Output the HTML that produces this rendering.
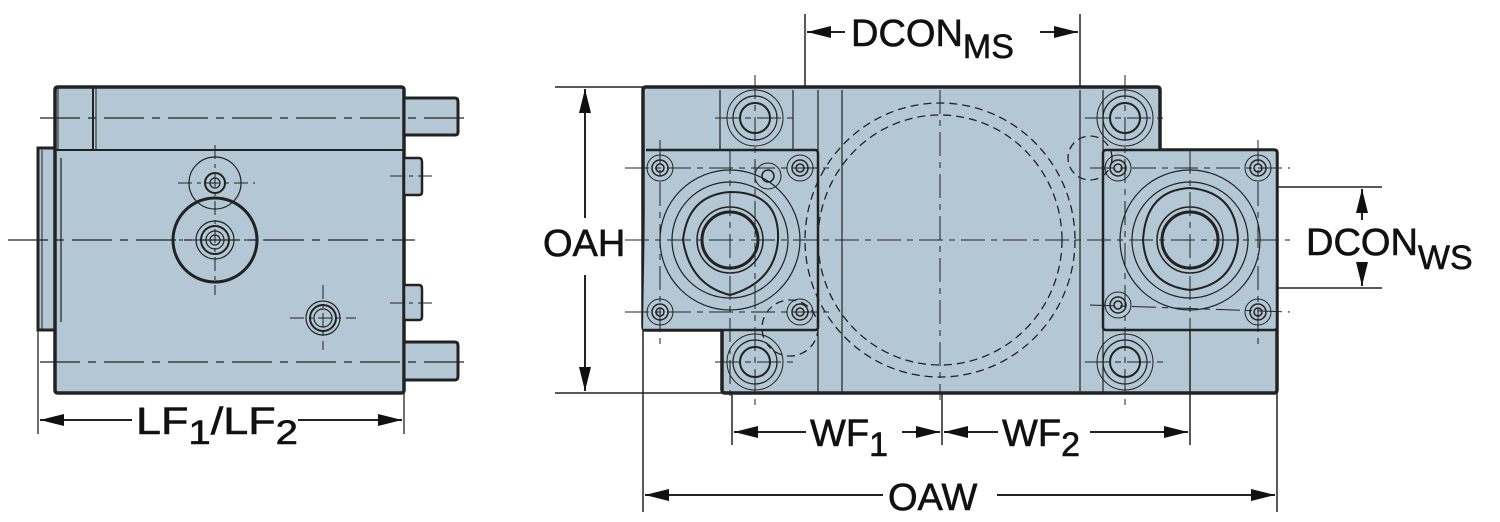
<!DOCTYPE html>
<html><head><meta charset="utf-8"><style>
html,body{margin:0;padding:0;background:#fff;}
svg{display:block;}
text{font-family:"Liberation Sans",Arial,sans-serif;fill:#111;stroke:#111;stroke-width:0.6;}
</style></head><body>
<svg width="1500" height="522" viewBox="0 0 1500 522" xmlns="http://www.w3.org/2000/svg">
<defs>
<marker id="a" viewBox="0 0 24 12" refX="24" refY="6" markerWidth="24" markerHeight="12" markerUnits="userSpaceOnUse" orient="auto-start-reverse"><path d="M0,0 L24,6 L0,12 z" fill="#111"/></marker>
</defs>
<g stroke="#222" fill="none">
<!-- LEFT VIEW -->
<path d="M38,148 H55 V330 H38 Z" fill="#b3c7d4" stroke-width="3"/>
<path d="M55,90 Q55,87 58,87 H401 Q404,87 404,90 V390 Q404,393 401,393 H58 Q55,393 55,390 Z" fill="#b3c7d4" stroke-width="3.5"/>
<path d="M404,98 H455 Q458,98 458,102 V132 Q458,135 455,135 H404 Z" fill="#b3c7d4" stroke-width="3"/>
<path d="M404,342 H455 Q458,342 458,346 V376 Q458,380 455,380 H404 Z" fill="#b3c7d4" stroke-width="3"/>
<path d="M404,158 H419 Q422,158 422,162 V192 Q422,195 419,195 H404 Z" fill="#b3c7d4" stroke-width="2.5"/>
<path d="M404,285 H419 Q422,285 422,289 V317 Q422,320 419,320 H404 Z" fill="#b3c7d4" stroke-width="2.5"/>
<line x1="55" y1="150" x2="404" y2="150" stroke-width="2"/>
<line x1="58" y1="87" x2="58" y2="150" stroke-width="1"/>
<line x1="93" y1="87" x2="93" y2="150" stroke-width="2"/>
<line x1="96" y1="87" x2="96" y2="150" stroke-width="1"/>
<line x1="61" y1="158" x2="61" y2="322" stroke-width="1.2"/>
<line x1="42" y1="150" x2="42" y2="330" stroke-width="1"/>
<g stroke-width="1.3" stroke-dasharray="40,8,8,8">
<line x1="40" y1="118" x2="470" y2="118"/>
<line x1="8" y1="240" x2="415" y2="240"/>
<line x1="40" y1="362" x2="470" y2="362"/>
</g>
<circle cx="215" cy="183" r="26" stroke-width="1.2"/>
<circle cx="215" cy="183" r="10" stroke-width="2"/>
<circle cx="215" cy="183" r="5" stroke-width="1.2"/>
<circle cx="215" cy="240" r="42" stroke-width="3"/>
<circle cx="215" cy="240" r="19" stroke-width="1.2"/>
<circle cx="215" cy="240" r="14" stroke-width="2"/>
<circle cx="215" cy="240" r="9" stroke-width="1.2"/>
<circle cx="215" cy="240" r="5" stroke-width="1.2"/>
<circle cx="323" cy="318" r="17" stroke-width="1.2"/>
<circle cx="323" cy="318" r="13" stroke-width="2"/>
<circle cx="323" cy="318" r="9" stroke-width="1.2"/>
<g stroke-width="1" stroke-dasharray="14,5,4,5">
<line x1="215" y1="145" x2="215" y2="295"/>
<line x1="178" y1="183" x2="255" y2="183"/>
<line x1="160" y1="240" x2="272" y2="240"/>
<line x1="323" y1="285" x2="323" y2="350"/>
<line x1="290" y1="318" x2="356" y2="318"/>
<line x1="390" y1="176" x2="433" y2="176"/>
<line x1="390" y1="303" x2="433" y2="303"/>
</g>
<!-- LF dimension -->
<line x1="38" y1="330" x2="38" y2="434" stroke-width="1.3"/>
<line x1="404" y1="393" x2="404" y2="434" stroke-width="1.3"/>
<line x1="40" y1="420" x2="132" y2="420" stroke-width="2" marker-start="url(#a)"/>
<line x1="298" y1="420" x2="402" y2="420" stroke-width="2" marker-end="url(#a)"/>

<!-- RIGHT VIEW -->
<path d="M646,87 H1157 Q1160,87 1160,90 V150 H1274 Q1277,150 1277,153 V390 Q1277,393 1274,393 H725 Q722,393 722,390 V330 H646 Q643,330 643,327 V90 Q643,87 646,87 Z" fill="#b3c7d4" stroke-width="3.5"/>
<path d="M646,150 H815 Q818,150 818,153 V327 Q818,330 815,330 H643" fill="#b3c7d4" stroke-width="2.5"/>
<path d="M1106,150 H1274 Q1277,150 1277,153 V327 Q1277,330 1274,330 H1106 Q1103,330 1103,327 V153 Q1103,150 1106,150 Z" fill="#b3c7d4" stroke-width="2.5"/>
<g stroke-width="1.2">
<line x1="818" y1="90" x2="818" y2="150"/>
<line x1="818" y1="330" x2="818" y2="393"/>
<line x1="842" y1="90" x2="842" y2="393"/>
<line x1="1080" y1="90" x2="1080" y2="393"/>
<line x1="1103" y1="90" x2="1103" y2="150"/>
<line x1="1103" y1="330" x2="1103" y2="393"/>
<line x1="720" y1="90" x2="720" y2="150"/>
<line x1="793" y1="90" x2="793" y2="150"/>
</g>
<g stroke-width="1.3" stroke-dasharray="8,5">
<ellipse cx="940" cy="240" rx="122" ry="125"/>
<ellipse cx="940" cy="240" rx="135" ry="137"/>
<circle cx="1090" cy="158" r="22"/>
<circle cx="790" cy="328" r="28"/>
</g>
<g>
<circle cx="730" cy="240" r="70" stroke-width="1.2"/>
<circle cx="730" cy="240" r="58" stroke-width="1.2"/>
<path d="M683,240 Q688,195 730,192 Q780,192 778,240 Q775,282 730,295 Q690,285 683,240 Z" stroke-width="2"/>
<circle cx="730" cy="240" r="33" stroke-width="1.5"/>
<circle cx="730" cy="240" r="28" stroke-width="3"/>
<circle cx="1190" cy="240" r="70" stroke-width="1.2"/>
<circle cx="1190" cy="240" r="58" stroke-width="1.2"/>
<path d="M1143,240 Q1146,190 1190,188 Q1236,192 1238,240 Q1234,285 1190,290 Q1146,285 1143,240 Z" stroke-width="2"/>
<circle cx="1190" cy="240" r="33" stroke-width="1.5"/>
<circle cx="1190" cy="240" r="28" stroke-width="3"/>
</g>
<g stroke-width="1.5">
<circle cx="660" cy="168" r="13" stroke-width="1"/><circle cx="660" cy="168" r="8"/><circle cx="660" cy="168" r="4"/>
<circle cx="800" cy="168" r="13" stroke-width="1"/><circle cx="800" cy="168" r="8"/><circle cx="800" cy="168" r="4"/>
<circle cx="660" cy="312" r="13" stroke-width="1"/><circle cx="660" cy="312" r="8"/><circle cx="660" cy="312" r="4"/>
<circle cx="800" cy="312" r="13" stroke-width="1"/><circle cx="800" cy="312" r="8"/><circle cx="800" cy="312" r="4"/>
<circle cx="768" cy="176" r="13" stroke-width="1"/><circle cx="768" cy="176" r="6"/>
<circle cx="1118" cy="168" r="13" stroke-width="1"/><circle cx="1118" cy="168" r="8"/><circle cx="1118" cy="168" r="4"/>
<circle cx="1258" cy="168" r="13" stroke-width="1"/><circle cx="1258" cy="168" r="8"/><circle cx="1258" cy="168" r="4"/>
<circle cx="1118" cy="305" r="13" stroke-width="1"/><circle cx="1118" cy="305" r="8"/><circle cx="1118" cy="305" r="4"/>
<circle cx="1258" cy="312" r="13" stroke-width="1"/><circle cx="1258" cy="312" r="8"/><circle cx="1258" cy="312" r="4"/>
<circle cx="755" cy="118" r="28" stroke-width="1"/><circle cx="755" cy="118" r="22" stroke-width="1.2"/><circle cx="755" cy="118" r="15" stroke-width="2"/>
<circle cx="1125" cy="118" r="28" stroke-width="1"/><circle cx="1125" cy="118" r="22" stroke-width="1.2"/><circle cx="1125" cy="118" r="15" stroke-width="2"/>
<circle cx="755" cy="362" r="28" stroke-width="1"/><circle cx="755" cy="362" r="22" stroke-width="1.2"/><circle cx="755" cy="362" r="15" stroke-width="2"/>
<circle cx="1125" cy="362" r="28" stroke-width="1"/><circle cx="1125" cy="362" r="22" stroke-width="1.2"/><circle cx="1125" cy="362" r="15" stroke-width="2"/>
</g>
<g stroke-width="1" stroke-dasharray="24,6,6,6">
<line x1="625" y1="240" x2="1290" y2="240"/>
<line x1="940" y1="90" x2="940" y2="400"/>
<line x1="730" y1="150" x2="730" y2="400"/>
<line x1="1190" y1="150" x2="1190" y2="330"/>
<line x1="755" y1="75" x2="755" y2="410"/>
<line x1="1125" y1="75" x2="1125" y2="410"/>
<line x1="660" y1="140" x2="660" y2="345"/>
<line x1="1258" y1="140" x2="1258" y2="345"/>
<line x1="715" y1="118" x2="795" y2="118"/>
<line x1="1085" y1="118" x2="1165" y2="118"/>
<line x1="715" y1="362" x2="795" y2="362"/>
<line x1="1085" y1="362" x2="1165" y2="362"/>
<line x1="625" y1="168" x2="830" y2="168"/>
<line x1="625" y1="312" x2="830" y2="312"/>
<line x1="1090" y1="168" x2="1290" y2="168"/>
<line x1="1090" y1="305" x2="1290" y2="312"/>
</g>
<g stroke-width="1.5">
<line x1="805" y1="14" x2="805" y2="87"/>
<line x1="1080" y1="14" x2="1080" y2="87"/>
<line x1="555" y1="87" x2="643" y2="87"/>
<line x1="555" y1="393" x2="722" y2="393"/>
<line x1="1277" y1="187" x2="1382" y2="187"/>
<line x1="1277" y1="288" x2="1382" y2="288"/>
<line x1="732" y1="393" x2="732" y2="445"/>
<line x1="942" y1="393" x2="942" y2="445"/>
<line x1="1190" y1="330" x2="1190" y2="445"/>
<line x1="643" y1="330" x2="643" y2="512"/>
<line x1="1277" y1="393" x2="1277" y2="512"/>
</g>
<g stroke-width="2">
<line x1="807" y1="32" x2="845" y2="32" marker-start="url(#a)"/>
<line x1="1040" y1="32" x2="1078" y2="32" marker-end="url(#a)"/>
<line x1="585" y1="89" x2="585" y2="218" marker-start="url(#a)"/>
<line x1="585" y1="275" x2="585" y2="391" marker-end="url(#a)"/>
<line x1="1362" y1="189" x2="1362" y2="220" marker-start="url(#a)"/>
<line x1="1362" y1="268" x2="1362" y2="286" marker-end="url(#a)"/>
<line x1="734" y1="432" x2="806" y2="432" marker-start="url(#a)"/>
<line x1="902" y1="432" x2="940" y2="432" marker-end="url(#a)"/>
<line x1="944" y1="432" x2="998" y2="432" marker-start="url(#a)"/>
<line x1="1090" y1="432" x2="1188" y2="432" marker-end="url(#a)"/>
<line x1="645" y1="495" x2="883" y2="495" marker-start="url(#a)"/>
<line x1="997" y1="495" x2="1275" y2="495" marker-end="url(#a)"/>
</g>
</g>
<g font-size="38">
<text x="136" y="434" textLength="162" lengthAdjust="spacingAndGlyphs">LF<tspan font-size="34" dy="10">1</tspan><tspan dy="-10">/LF</tspan><tspan font-size="34" dy="10">2</tspan></text>
<text x="851" y="46">DCON<tspan font-size="34" dy="12">MS</tspan></text>
<text x="543" y="256">OAH</text>
<text x="1306" y="255">DCON<tspan font-size="34" dy="14">WS</tspan></text>
<text x="810" y="446">WF<tspan font-size="34" dy="10">1</tspan></text>
<text x="1002" y="446">WF<tspan font-size="34" dy="10">2</tspan></text>
<text x="888" y="510">OAW</text>
</g>
</svg>
</body></html>
